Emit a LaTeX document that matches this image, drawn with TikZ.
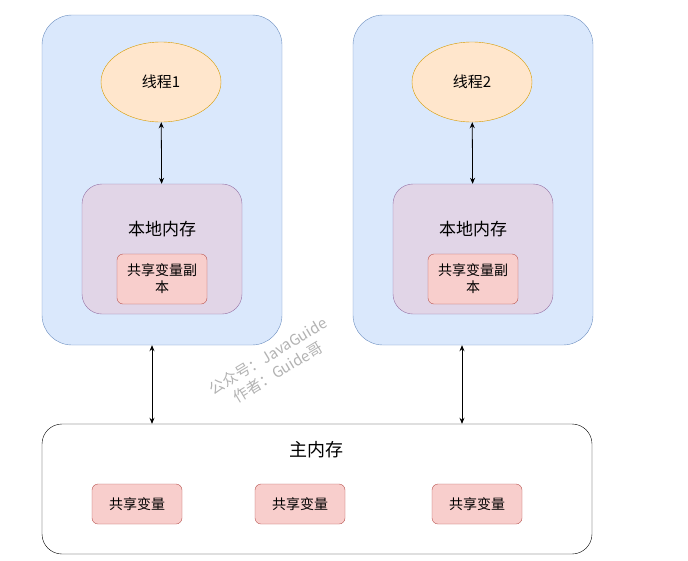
\documentclass[tikz,border=0pt]{standalone}
\usepackage{fontspec}
\usepackage{xcolor}
\usepackage{tikz}
\newfontfamily\cjk{Noto Sans CJK SC}
\definecolor{workfill}{HTML}{DAE8FC}
\definecolor{workline}{HTML}{6C8EBF}
\definecolor{threadfill}{HTML}{FFE6CC}
\definecolor{threadline}{HTML}{D79B00}
\definecolor{localfill}{HTML}{E1D5E7}
\definecolor{localline}{HTML}{9673A6}
\definecolor{varfill}{HTML}{F8CECC}
\definecolor{varline}{HTML}{B85450}
\usetikzlibrary{shapes.geometric, arrows.meta, positioning, calc}

\begin{document}
\begin{tikzpicture}[
    x=1pt, y=-1pt,
    work/.style={rectangle, draw=workline, fill=workfill, rounded corners=30pt, minimum width=240pt, minimum height=330pt},
    thread/.style={ellipse, draw=threadline, fill=threadfill, minimum width=120pt, minimum height=80pt, font=\cjk\fontsize{15}{17}\selectfont},
    localmem/.style={rectangle, draw=localline, fill=localfill, rounded corners=20pt, minimum width=160pt, minimum height=130pt},
    var/.style={rectangle, draw=varline, fill=varfill, rounded corners=6pt, minimum width=90pt, align=center, font=\cjk\fontsize{14}{17}\selectfont},
    arrow/.style={{Stealth[length=6pt,width=5pt]}-{Stealth[length=6pt,width=5pt]}, thick}
]
    \useasboundingbox (0,0) rectangle (688,560);

    % working memory of thread 1
    \node[work] (work1) at (162, 180) {};
    \node[thread] (thread1) at (161, 82) {线程1};
    \node[localmem] (local1) at (162, 249) {};
    \node[font=\cjk\fontsize{17}{19}\selectfont] at (162, 229) {本地内存};
    \node[var, minimum height=50pt, inner sep=1pt] (copy1) at (162, 279) {共享变量副\\本};

    % working memory of thread 2
    \node[work] (work2) at (473, 180) {};
    \node[thread] (thread2) at (472, 82) {线程2};
    \node[localmem] (local2) at (473, 249) {};
    \node[font=\cjk\fontsize{17}{19}\selectfont] at (473, 229) {本地内存};
    \node[var, minimum height=50pt, inner sep=1pt] (copy2) at (473, 279) {共享变量副\\本};

    % main memory
    \node[rectangle, draw=black, fill=white, rounded corners=20pt, minimum width=550pt, minimum height=130pt] (main) at (317, 489) {};
    \node[font=\cjk\fontsize{18}{20}\selectfont] at (316, 450) {主内存};
    \node[var, minimum height=40pt] (var1) at (137, 504) {共享变量};
    \node[var, minimum height=40pt] (var2) at (300, 504) {共享变量};
    \node[var, minimum height=40pt] (var3) at (477, 504) {共享变量};

    \draw[arrow] (thread1) -- (local1);
    \draw[arrow] (thread2) -- (local2);
    \draw[arrow] ([xshift=-10pt]work1.south) -- ([xshift=-10pt]work1.south |- main.north);
    \draw[arrow] ([xshift=-11pt]work2.south) -- ([xshift=-11pt]work2.south |- main.north);

    % watermark
    \node[rotate=31, text=black!30, align=center, font=\cjk\fontsize{15}{19}\selectfont] at (273, 364) {公众号：JavaGuide\\作者：Guide哥};
\end{tikzpicture}
\end{document}
